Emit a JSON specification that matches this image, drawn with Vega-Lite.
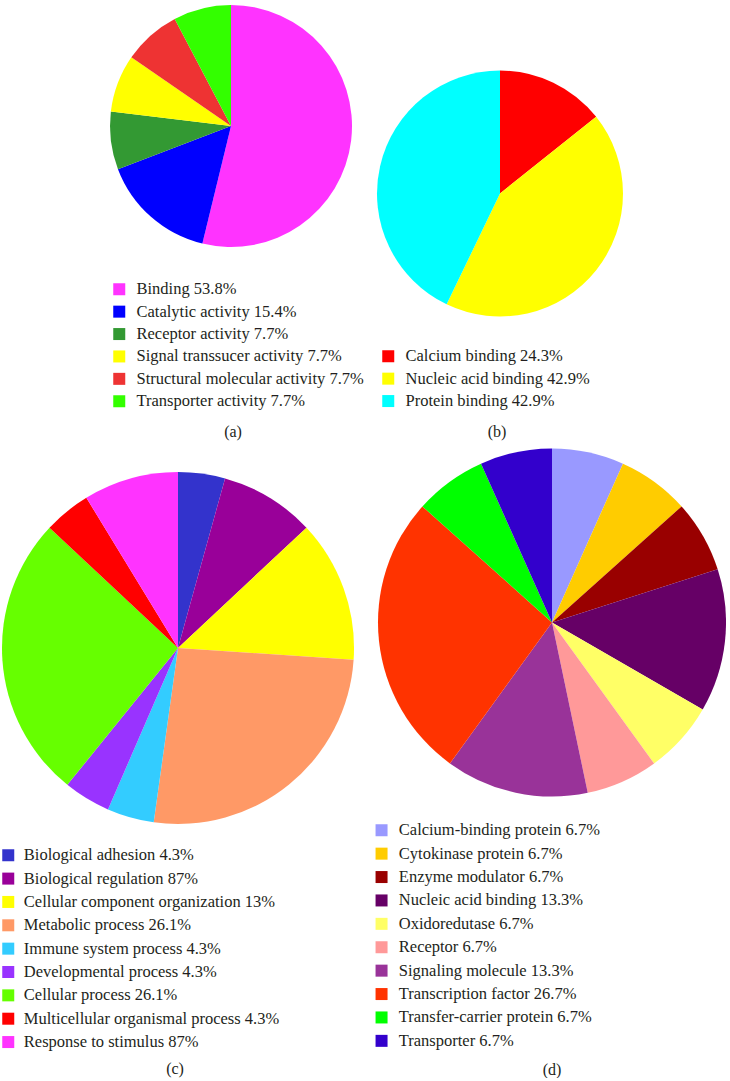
{
  "$schema": "https://vega.github.io/schema/vega-lite/v6.json",
  "padding": 0,
  "autosize": {"type": "pad"},
  "background": "white",
  "config": {
    "view": {"stroke": null},
    "font": "Liberation Serif",
    "title": {"font": "Liberation Serif", "fontSize": 16, "fontWeight": "normal", "color": "#231f20", "orient": "bottom", "anchor": "middle", "frame": "group"},
    "legend": {
      "orient": "none",
      "title": null,
      "symbolType": "square",
      "symbolSize": 144,
      "symbolStrokeWidth": 0,
      "symbolOpacity": 1,
      "labelFont": "Liberation Serif",
      "labelFontSize": 16.5,
      "labelColor": "#231f20",
      "labelOffset": 9,
      "labelLimit": 0,
      "padding": 0
    }
  },
  "columns": 2,
  "spacing": 0,
  "bounds": "flush",
  "resolve": {"scale": {"color": "independent", "theta": "independent"}, "legend": {"color": "independent"}},
  "concat": [
    {
      "width": 462,
      "height": 252,
      "title": {"text": "(a)", "offset": 14, "dx": 2},
      "data": {"values": [
        {"term": "Binding 53.8%", "share": 53.8, "rank": 1},
        {"term": "Catalytic activity 15.4%", "share": 15.4, "rank": 2},
        {"term": "Receptor activity 7.7%", "share": 7.7, "rank": 3},
        {"term": "Signal transsucer activity 7.7%", "share": 7.7, "rank": 4},
        {"term": "Structural molecular activity 7.7%", "share": 7.7, "rank": 5},
        {"term": "Transporter activity 7.7%", "share": 7.7, "rank": 6}
      ]},
      "mark": {"type": "arc", "outerRadius": 121},
      "encoding": {
        "theta": {"field": "share", "type": "quantitative", "stack": true},
        "order": {"field": "rank", "type": "quantitative"},
        "color": {
          "field": "term", "type": "nominal", "sort": null,
          "scale": {"range": ["#ff33ff", "#0000ff", "#339933", "#ffff00", "#ee3333", "#33ff00"]},
          "legend": {"legendX": 111, "legendY": 281, "rowPadding": 5.4}
        }
      }
    },
    {
      "width": 76,
      "height": 387,
      "title": {"text": "(b)", "offset": 14, "dx": -3},
      "data": {"values": [
        {"term": "Calcium binding 24.3%", "share": 14.3, "rank": 1},
        {"term": "Nucleic acid binding 42.9%", "share": 42.9, "rank": 2},
        {"term": "Protein binding 42.9%", "share": 42.9, "rank": 3}
      ]},
      "mark": {"type": "arc", "outerRadius": 123},
      "encoding": {
        "theta": {"field": "share", "type": "quantitative", "stack": true},
        "order": {"field": "rank", "type": "quantitative"},
        "color": {
          "field": "term", "type": "nominal", "sort": null,
          "scale": {"range": ["#ff0000", "#ffff00", "#00ffff"]},
          "legend": {"legendX": -82, "legendY": 348, "rowPadding": 5.4}
        }
      }
    },
    {
      "width": 356,
      "height": 522,
      "title": {"text": "(c)", "offset": 10, "dx": -3},
      "data": {"values": [
        {"term": "Biological adhesion 4.3%", "share": 4.3, "rank": 1},
        {"term": "Biological regulation 87%", "share": 8.7, "rank": 2},
        {"term": "Cellular component organization 13%", "share": 13, "rank": 3},
        {"term": "Metabolic process 26.1%", "share": 26.1, "rank": 4},
        {"term": "Immune system process 4.3%", "share": 4.3, "rank": 5},
        {"term": "Developmental process 4.3%", "share": 4.3, "rank": 6},
        {"term": "Cellular process 26.1%", "share": 26.1, "rank": 7},
        {"term": "Multicellular organismal process 4.3%", "share": 4.3, "rank": 8},
        {"term": "Response to stimulus 87%", "share": 8.7, "rank": 9}
      ]},
      "mark": {"type": "arc", "outerRadius": 176},
      "encoding": {
        "theta": {"field": "share", "type": "quantitative", "stack": true},
        "order": {"field": "rank", "type": "quantitative"},
        "color": {
          "field": "term", "type": "nominal", "sort": null,
          "scale": {"range": ["#3333cc", "#990099", "#ffff00", "#ff9966", "#33ccff", "#9933ff", "#66ff00", "#ff0000", "#ff33ff"]},
          "legend": {"legendX": 0, "legendY": 460, "rowPadding": 6.35, "labelOffset": 7.3}
        }
      }
    },
    {
      "width": 180,
      "height": 471,
      "title": {"text": "(d)", "offset": 12},
      "data": {"values": [
        {"term": "Calcium-binding protein 6.7%", "share": 6.7, "rank": 1},
        {"term": "Cytokinase protein 6.7%", "share": 6.7, "rank": 2},
        {"term": "Enzyme modulator 6.7%", "share": 6.7, "rank": 3},
        {"term": "Nucleic acid binding 13.3%", "share": 13.3, "rank": 4},
        {"term": "Oxidoredutase 6.7%", "share": 6.7, "rank": 5},
        {"term": "Receptor 6.7%", "share": 6.7, "rank": 6},
        {"term": "Signaling molecule 13.3%", "share": 13.3, "rank": 7},
        {"term": "Transcription factor 26.7%", "share": 26.7, "rank": 8},
        {"term": "Transfer-carrier protein 6.7%", "share": 6.7, "rank": 9},
        {"term": "Transporter 6.7%", "share": 6.7, "rank": 10}
      ]},
      "mark": {"type": "arc", "outerRadius": 174},
      "encoding": {
        "theta": {"field": "share", "type": "quantitative", "stack": true},
        "order": {"field": "rank", "type": "quantitative"},
        "color": {
          "field": "term", "type": "nominal", "sort": null,
          "scale": {"range": ["#9999ff", "#ffcc00", "#990000", "#660066", "#ffff66", "#ff9999", "#993399", "#ff3300", "#00ff00", "#3300cc"]},
          "legend": {"legendX": -88.7, "legendY": 435, "rowPadding": 6.4}
        }
      }
    }
  ]
}
